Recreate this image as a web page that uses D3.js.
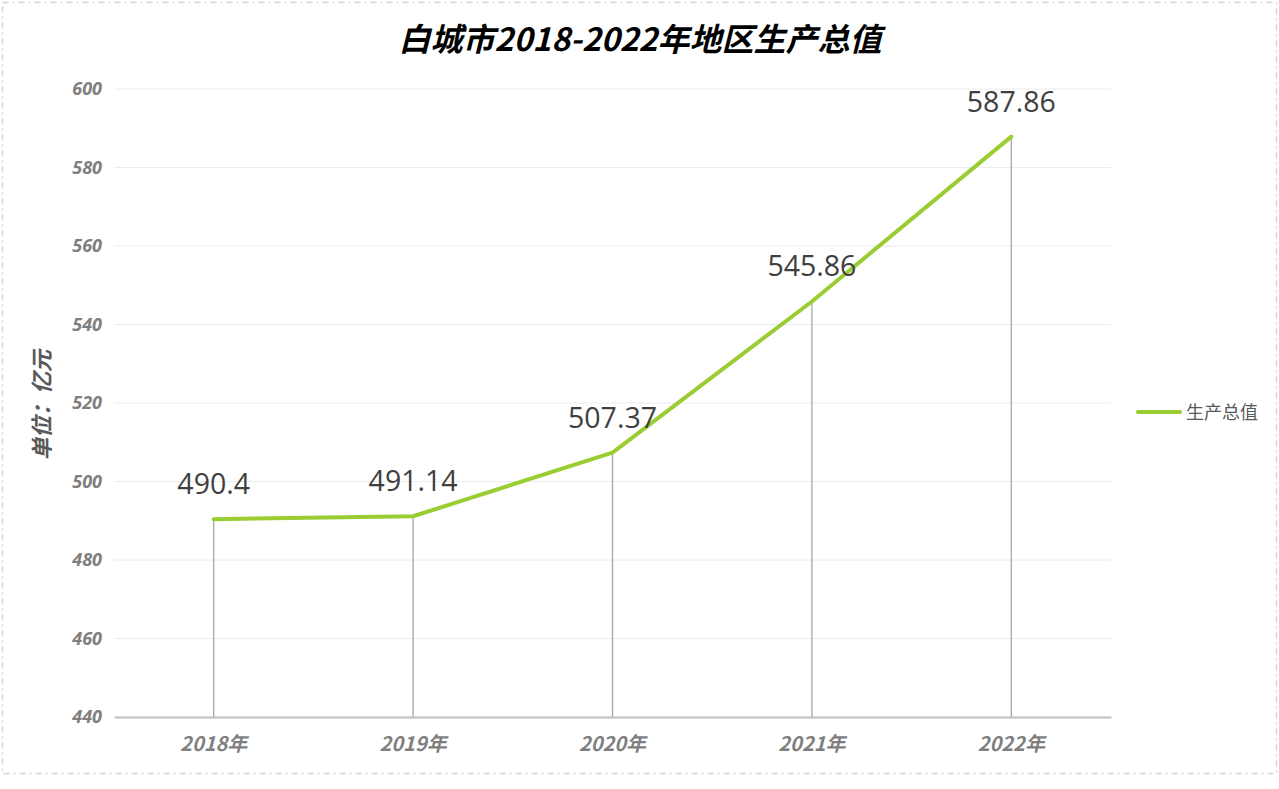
<!DOCTYPE html>
<html>
<head>
<meta charset="utf-8">
<script src="https://cdn.jsdelivr.net/npm/d3@7/dist/d3.min.js"></script>
<style>
  html, body { margin: 0; padding: 0; background: #fff; }
  svg { display: block; }
</style>
</head>
<body>
<svg id="chart" width="1279" height="789"></svg>
<script>
// GDP of Baicheng, 2018–2022 (100 million yuan)
const years = ["2018年", "2019年", "2020年", "2021年", "2022年"];
const gdpValues = [490.4, 491.14, 507.37, 545.86, 587.86];
const yTicks = [440, 460, 480, 500, 520, 540, 560, 580, 600];
const seriesName = "生产总值";
const titleText = "白城市2018-2022年地区生产总值";
const yAxisLabel = "单位：亿元";

const svg = d3.select("#chart");
const W = 1279, H = 789;
const plot = { left: 114, right: 1111, top: 89, bottom: 717 };
const lineColor = "#9ACD32";
const cjk = "'Noto Sans CJK SC', 'Open Sans', sans-serif";

// outer frame
svg.append("rect")
  .attr("x", 2.5).attr("y", 2.5)
  .attr("width", W - 5).attr("height", 771)
  .attr("fill", "none")
  .attr("stroke", "#d4d4d4")
  .attr("stroke-width", 1.5)
  .attr("stroke-dasharray", "6,4,2,4");

const x = d3.scaleBand().domain(years).range([plot.left, plot.right]);
const y = d3.scaleLinear().domain([440, 600]).range([plot.bottom, plot.top]);

// gridlines
svg.append("g")
  .selectAll("line")
  .data(yTicks.filter(t => t !== 440))
  .join("line")
  .attr("x1", plot.left).attr("x2", plot.right)
  .attr("y1", d => y(d)).attr("y2", d => y(d))
  .attr("stroke", "#ececec").attr("stroke-width", 1);

// y axis labels
const yAxis = d3.axisLeft(y).tickValues(yTicks).tickSize(0).tickPadding(12);
const gy = svg.append("g").attr("transform", `translate(${plot.left},0)`).call(yAxis);
gy.select(".domain").remove();
gy.selectAll("text")
  .attr("fill", "#7f7f7f")
  .style("font-family", "'Open Sans', sans-serif")
  .style("font-size", "18px")
  .style("font-weight", "bold")
  .style("font-style", "italic");

// drop lines from each point to the axis
svg.append("g")
  .selectAll("line")
  .data(gdpValues)
  .join("line")
  .attr("x1", (d, i) => x(years[i]) + x.bandwidth() / 2)
  .attr("x2", (d, i) => x(years[i]) + x.bandwidth() / 2)
  .attr("y1", d => y(d))
  .attr("y2", plot.bottom)
  .attr("stroke", "#a6a6a6").attr("stroke-width", 1.3);

// x axis
const xAxis = d3.axisBottom(x).tickSize(0).tickPadding(20);
const gx = svg.append("g").attr("transform", `translate(0,${plot.bottom})`).call(xAxis);
gx.select(".domain").attr("stroke", "#bfbfbf").attr("stroke-width", 2);
gx.selectAll("text")
  .attr("fill", "#7f7f7f")
  .style("font-family", cjk)
  .style("font-size", "20px")
  .style("font-weight", "bold")
  .style("font-style", "italic");

// line
const line = d3.line()
  .x((d, i) => x(years[i]) + x.bandwidth() / 2)
  .y(d => y(d));
svg.append("path")
  .datum(gdpValues)
  .attr("d", line)
  .attr("fill", "none")
  .attr("stroke", lineColor)
  .attr("stroke-width", 4)
  .attr("stroke-linejoin", "round")
  .attr("stroke-linecap", "round");

// value labels
svg.append("g")
  .selectAll("text")
  .data(gdpValues)
  .join("text")
  .attr("x", (d, i) => x(years[i]) + x.bandwidth() / 2)
  .attr("y", d => y(d) - 25)
  .attr("text-anchor", "middle")
  .attr("fill", "#404040")
  .style("font-family", "'Open Sans', sans-serif")
  .style("font-size", "28.5px")
  .text(d => d);

// title
svg.append("text")
  .attr("x", 640).attr("y", 51)
  .attr("text-anchor", "middle")
  .attr("fill", "#000")
  .style("font-family", cjk)
  .style("font-size", "32px")
  .style("font-weight", "bold")
  .style("font-style", "italic")
  .text(titleText);

// y axis title
svg.append("text")
  .attr("transform", `translate(50,405) rotate(-90)`)
  .attr("text-anchor", "middle")
  .attr("fill", "#595959")
  .style("font-family", cjk)
  .style("font-size", "22px")
  .style("font-weight", "bold")
  .style("font-style", "italic")
  .text(yAxisLabel);

// legend
const lg = svg.append("g").attr("transform", "translate(1138,412)");
lg.append("line")
  .attr("x1", 0).attr("x2", 42).attr("y1", 0).attr("y2", 0)
  .attr("stroke", lineColor).attr("stroke-width", 4).attr("stroke-linecap", "round");
lg.append("text")
  .attr("x", 48).attr("y", 6.5)
  .attr("fill", "#595959")
  .style("font-family", cjk)
  .style("font-size", "18px")
  .text(seriesName);
</script>
</body>
</html>
